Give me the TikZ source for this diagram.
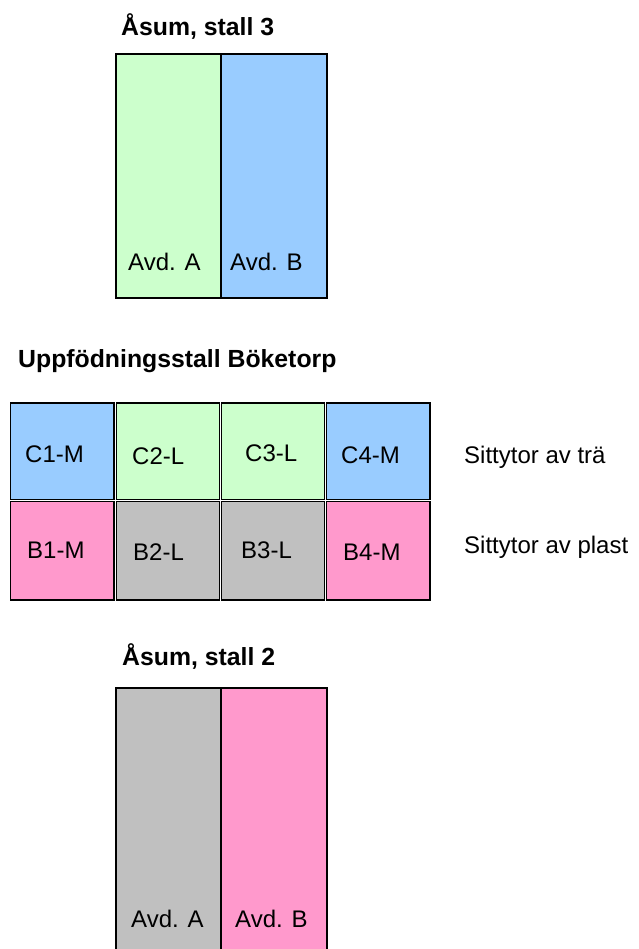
\documentclass[tikz,border=0pt]{standalone}
\usepackage{fontspec}
\setmainfont{Liberation Sans}
\definecolor{lgreen}{HTML}{CCFFCC}
\definecolor{lblue}{HTML}{99CCFF}
\definecolor{lpink}{HTML}{FF99CC}
\definecolor{lgray}{HTML}{C0C0C0}
\tikzset{
  cell/.style={draw=black, line width=1.6pt},
  lbl/.style={anchor=base west, inner sep=0pt, font=\fontsize{24}{27}\selectfont},
  ttl/.style={anchor=base west, inner sep=0pt, font=\fontsize{24.8}{28}\selectfont\bfseries},
}
\begin{document}
\begin{tikzpicture}[x=1pt,y=-1pt]
\clip (0,0) rectangle (638,949);
\fill[white] (0,0) rectangle (638,949);
% top box: Asum stall 3
\node[ttl] (t3) at (121,36) {Åsum, stall 3};
\path[cell, fill=lgreen] (116,54) rectangle (221,298);
\path[cell, fill=lblue] (221,54) rectangle (327,298);
\node[lbl] (a3) at (128,271) {Avd. A};
\node[lbl] (b3) at (230,271) {Avd. B};
% middle grid
\node[ttl] (tb) at (18,367) {Uppfödningsstall Böketorp};
\path[cell, fill=lblue]  (10.5,403) rectangle (114.2,499.6);
\path[cell, fill=lgreen] (116.3,403) rectangle (219.6,499.6);
\path[cell, fill=lgreen] (221.4,403) rectangle (324.6,499.6);
\path[cell, fill=lblue]  (326.4,403) rectangle (430,499.6);
\path[cell, fill=lpink]  (10.5,501.4) rectangle (114.2,600);
\path[cell, fill=lgray]  (116.3,501.4) rectangle (219.6,600);
\path[cell, fill=lgray]  (221.4,501.4) rectangle (324.6,600);
\path[cell, fill=lpink]  (326.4,501.4) rectangle (430,600);
\node[lbl] (c1) at (25,462) {C1-M};
\node[lbl] (c2) at (132,464) {C2-L};
\node[lbl] (c3) at (245,461) {C3-L};
\node[lbl] (c4) at (341,463) {C4-M};
\node[lbl] (b1) at (27,558) {B1-M};
\node[lbl] (b2) at (133,560) {B2-L};
\node[lbl] (b3r) at (241,558) {B3-L};
\node[lbl] (b4) at (343,560) {B4-M};
\node[lbl] (s1) at (464,463) {Sittytor av trä};
\node[lbl] (s2) at (464,553) {Sittytor av plast};
% bottom box: Asum stall 2
\node[ttl] (t2) at (122,665) {Åsum, stall 2};
\path[cell, fill=lgray] (116,688) rectangle (221,970);
\path[cell, fill=lpink] (221,688) rectangle (327,970);
\node[lbl] (a2) at (131,927) {Avd. A};
\node[lbl] (b2b) at (235,927) {Avd. B};
\end{tikzpicture}
\end{document}
